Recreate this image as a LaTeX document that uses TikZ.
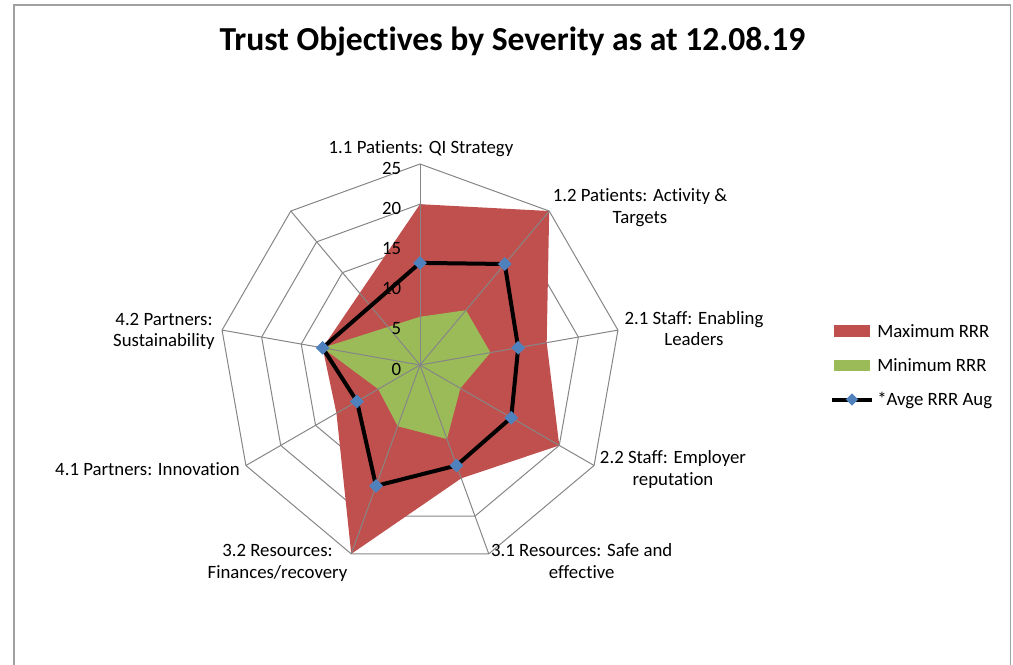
\documentclass[tikz,border=0pt]{standalone}
\usepackage{fontspec}
\setmainfont{Carlito}[Ligatures={CommonOff}]
\usetikzlibrary{shapes.geometric}
\definecolor{maxred}{HTML}{C0504D}
\definecolor{mingreen}{HTML}{9BBB59}
\definecolor{avgblue}{HTML}{4F81BD}
\definecolor{gridgray}{HTML}{868686}
\definecolor{framegray}{HTML}{A0A0A0}
\newcommand{\labfont}{\fontsize{14.1}{17}\selectfont}
\newcommand{\titlefont}{\fontsize{25.2}{30}\selectfont\bfseries}
\begin{document}
\begin{tikzpicture}[x=0.75pt,y=-0.75pt,
  lab/.style={font=\labfont, inner sep=0pt, anchor=base},
  tick/.style={font=\labfont, inner sep=0pt, anchor=east},
  dia/.style={diamond, fill=avgblue, inner sep=0pt, minimum width=10.5pt, minimum height=10.5pt},
  gridline/.style={draw=gridgray, line width=0.75pt},
  avgline/.style={draw=black, line width=3pt, line join=round},
  framel/.style={draw=framegray, line width=1.2pt}]
\useasboundingbox (0,0) rectangle (1013,664);
\draw[framel] (14,670) -- (14,5) -- (1010.5,5) -- (1010.5,670);
% title
\node[font=\titlefont, inner sep=0pt, anchor=base] (title) at (512.5,50) {Trust Objectives by Severity as at 12.08.19};
\coordinate (O) at (420,365);
% rings
\foreach \v in {5,10,15,20,25}{
  \draw[gridline] (420,{365-8.04*\v}) \foreach \a in {50,10,-30,-70,-110,-150,170,130}{ -- ({420+8.04*\v*cos(\a)},{365-8.04*\v*sin(\a)}) } -- cycle;
}
% data coordinates
\foreach \a/\v [count=\i] in {90/20,50/25,10/16,-30/20,-70/15,-110/25,-150/12,170/12.3}
  \coordinate (r\i) at ({420+8.04*\v*cos(\a)},{365-8.04*\v*sin(\a)});
\foreach \a/\v [count=\i] in {90/6,50/8.9,10/8.9,-30/5.8,-70/9.8,-110/8.1,-150/6,170/12.3}
  \coordinate (g\i) at ({420+8.04*\v*cos(\a)},{365-8.04*\v*sin(\a)});
\foreach \a/\v [count=\i] in {90/12.7,50/16.4,10/12.4,-30/13.1,-70/13.3,-110/16,-150/9.05,170/12.3}
  \coordinate (a\i) at ({420+8.04*\v*cos(\a)},{365-8.04*\v*sin(\a)});
\fill[maxred] (r1) -- (r2) -- (r3) -- (r4) -- (r5) -- (r6) -- (r7) -- (r8) -- cycle;
\fill[mingreen] (g1) -- (g2) -- (g3) -- (g4) -- (g5) -- (g6) -- (g7) -- (g8) -- cycle;
% spokes
\foreach \a [count=\i] in {90,50,10,-30,-70,-110,-150,170,130}{
  \coordinate (s\i) at ({420+8.04*25*cos(\a)},{365-8.04*25*sin(\a)});
  \draw[gridline] (O) -- (s\i);
}
% tick labels
\foreach \v in {0,5,10,15,20,25}
  \node[tick] (t\v) at (401.5,{369-8.04*\v}) {\v};
% average series
\draw[avgline] (a1) -- (a2) -- (a3) -- (a4) -- (a5) -- (a6) -- (a7) -- (a8) -- cycle;
\foreach \i in {1,...,8}
  \node[dia] (d\i) at (a\i) {};
% category labels
\node[lab] (l11) at (421,153) {1.1 Patients: QI Strategy};
\node[lab] (l12a) at (640,201.5) {1.2 Patients: Activity \&};
\node[lab] (l12b) at (640,223.3) {Targets};
\node[lab] (l21a) at (694,324) {2.1 Staff: Enabling};
\node[lab] (l21b) at (694,345.8) {Leaders};
\node[lab] (l22a) at (673,463.5) {2.2 Staff: Employer};
\node[lab] (l22b) at (673,485.3) {reputation};
\node[lab] (l31a) at (581.7,556.5) {3.1 Resources: Safe and};
\node[lab] (l31b) at (581.7,578) {effective};
\node[lab] (l32a) at (277.5,556.5) {3.2 Resources:};
\node[lab] (l32b) at (277.5,578) {Finances/recovery};
\node[lab] (l41) at (147.5,475) {4.1 Partners: Innovation};
\node[lab] (l42a) at (164,325) {4.2 Partners:};
\node[lab] (l42b) at (164,346.8) {Sustainability};
% legend
\fill[maxred] (834,325) rectangle (870,337);
\node[lab, anchor=base west] (legmax) at (877,337.5) {Maximum RRR};
\fill[mingreen] (834,359.5) rectangle (870,371);
\node[lab, anchor=base west] (legmin) at (877,371) {Minimum RRR};
\coordinate (la) at (832,399.5);
\coordinate (lb) at (872,399.5);
\draw[avgline] (la) -- (lb);
\node[dia, minimum width=9.5pt, minimum height=9.5pt] (legdia) at (852,399.5) {};
\node[lab, anchor=base west] (legavg) at (877,405) {*Avge RRR Aug};
\end{tikzpicture}
\end{document}
